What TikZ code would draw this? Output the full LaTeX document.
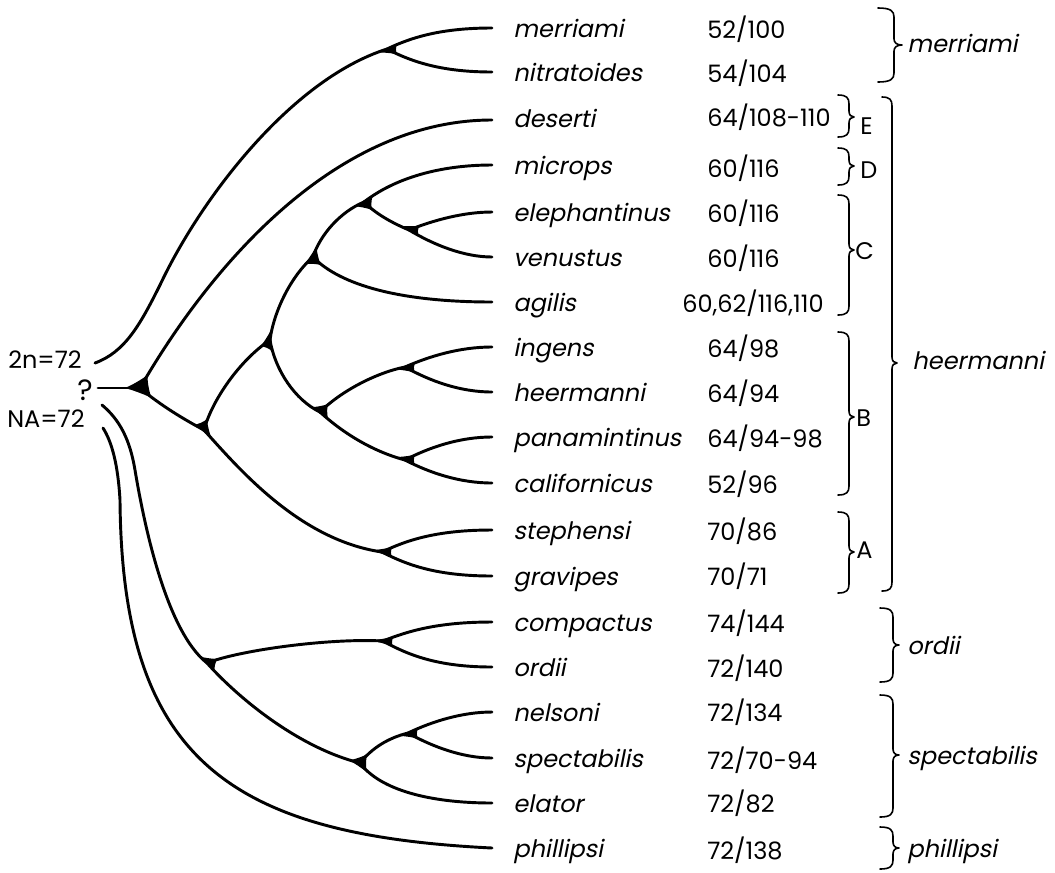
\documentclass[tikz,border=0pt]{standalone}
\usepackage{fontspec}
\setmainfont{Poppins}
\newfontfamily\taxfont{Poppins}[FakeSlant=0.2]
\usetikzlibrary{calc}

\newcommand\labsize{\fontsize{18}{22}\selectfont}

% filled web where a lineage forks:
% reach, control reach, J, toward parent, toward child 1, toward child 2
\newcommand\junctionsz[6]{%
  \fill ($(#3)!#1!(#4)$)
        .. controls ($(#3)!#2!(#4)$) and ($(#3)!#2!(#5)$) .. ($(#3)!#1!(#5)$)
        .. controls ($(#3)!#2!(#5)$) and ($(#3)!#2!(#6)$) .. ($(#3)!#1!(#6)$)
        .. controls ($(#3)!#2!(#6)$) and ($(#3)!#2!(#4)$) .. ($(#3)!#1!(#4)$) -- cycle;}
\newcommand\junction[4]{\junctionsz{9pt}{7pt}{#1}{#2}{#3}{#4}}

% curly bracket: x of ends, top, tip, bottom, depth, tip length
\newcommand\grpbrace[6]{%
  \draw[brk] (#1,#2) .. controls ({#1+0.8*#5},#2) and ({#1+#5},{#2+3}) .. ({#1+#5},{#2+9})
    -- ({#1+#5},{#3-6}) .. controls ({#1+#5},{#3-2}) and ({#1+#5+0.4*#6},#3) .. ({#1+#5+#6},#3)
    .. controls ({#1+#5+0.4*#6},#3) and ({#1+#5},{#3+2}) .. ({#1+#5},{#3+6})
    -- ({#1+#5},{#4-9}) .. controls ({#1+#5},{#4-3}) and ({#1+0.8*#5},#4) .. (#1,#4);}

\begin{document}
\begin{tikzpicture}[x=0.75pt,y=-0.75pt,
  branch/.style={line width=2.2pt,line cap=round},
  brk/.style={line width=1.2pt,line cap=round,line join=round},
  tax/.style={font=\taxfont\labsize,anchor=base west,inner sep=0pt},
  num/.style={font=\labsize,anchor=base west,inner sep=0pt}]
\useasboundingbox (0,0) rectangle (1055,872);

% fork points
\coordinate (rs) at (98,388);
\coordinate (R) at (140,388);
\coordinate (NA) at (204,430);
\coordinate (NC) at (270,340);
\coordinate (ND) at (313,257);
\coordinate (NE) at (364,202);
\coordinate (NF) at (409,230);
\coordinate (NB) at (320,412);
\coordinate (Ning) at (405,367);
\coordinate (Npan) at (405,460);
\coordinate (Nst) at (382,552);
\coordinate (NM) at (387,49);
\coordinate (NO) at (207,663);
\coordinate (Nco) at (383,641);
\coordinate (Nsp) at (360,763);
\coordinate (Nne) at (408,733);
\coordinate (s2n) at (95,363);
\coordinate (sNAi) at (102,405);
\coordinate (sNAo) at (103,428);

% tips of the branches
\coordinate (e-merriami) at (492,28);
\coordinate (e-nitratoides) at (492,72);
\coordinate (e-deserti) at (492,120);
\coordinate (e-microps) at (492,165);
\coordinate (e-elephantinus) at (492,212);
\coordinate (e-venustus) at (492,257);
\coordinate (e-agilis) at (492,302);
\coordinate (e-ingens) at (492,347);
\coordinate (e-heermanni) at (492,392);
\coordinate (e-panamintinus) at (492,437);
\coordinate (e-californicus) at (492,483);
\coordinate (e-stephensi) at (492,530);
\coordinate (e-gravipes) at (492,576);
\coordinate (e-compactus) at (492,622);
\coordinate (e-ordii) at (492,667);
\coordinate (e-nelsoni) at (492,712);
\coordinate (e-spectabilis) at (492,758);
\coordinate (e-elator) at (492,803);
\coordinate (e-phillipsi) at (492,848);

% branches
\draw[branch] (s2n) .. controls (125,352) and (140,325) .. (160,285)
  .. controls (200,200) and (290,80) .. (NM);
\draw[branch] (NM) .. controls (412,37) and (442,28) .. (e-merriami);
\draw[branch] (NM) .. controls (412,62) and (442,72) .. (e-nitratoides);
\draw[branch] (rs) -- (R);
\draw[branch] (R) .. controls (205,275) and (330,120) .. (e-deserti);
\draw[branch] (R) .. controls (160,405) and (185,420) .. (NA);
\draw[branch] (NA) .. controls (212,400) and (240,360) .. (NC);
\draw[branch] (NA) .. controls (240,470) and (300,540) .. (Nst);
\draw[branch] (NC) .. controls (274,310) and (292,275) .. (ND);
\draw[branch] (NC) .. controls (275,370) and (295,400) .. (NB);
\draw[branch] (ND) .. controls (320,235) and (340,212) .. (NE);
\draw[branch] (ND) .. controls (340,285) and (400,302) .. (e-agilis);
\draw[branch] (NE) .. controls (395,178) and (440,165) .. (e-microps);
\draw[branch] (NE) .. controls (375,213) and (390,222) .. (NF);
\draw[branch] (NF) .. controls (434,220) and (464,212) .. (e-elephantinus);
\draw[branch] (NF) .. controls (434,245) and (464,257) .. (e-venustus);
\draw[branch] (NB) .. controls (340,392) and (375,373) .. (Ning);
\draw[branch] (NB) .. controls (345,435) and (375,452) .. (Npan);
\draw[branch] (Ning) .. controls (430,356) and (460,347) .. (e-ingens);
\draw[branch] (Ning) .. controls (430,381) and (460,392) .. (e-heermanni);
\draw[branch] (Npan) .. controls (430,447) and (460,437) .. (e-panamintinus);
\draw[branch] (Npan) .. controls (430,473) and (460,483) .. (e-californicus);
\draw[branch] (Nst) .. controls (407,540) and (437,530) .. (e-stephensi);
\draw[branch] (Nst) .. controls (407,565) and (437,576) .. (e-gravipes);
\draw[branch] (sNAi) .. controls (120,420) and (130,440) .. (135,470)
  .. controls (143,518) and (165,630) .. (NO);
\draw[branch] (NO) .. controls (240,650) and (330,638) .. (Nco);
\draw[branch] (NO) .. controls (240,700) and (300,748) .. (Nsp);
\draw[branch] (Nco) .. controls (408,631) and (438,622) .. (e-compactus);
\draw[branch] (Nco) .. controls (408,655) and (438,667) .. (e-ordii);
\draw[branch] (Nsp) .. controls (372,748) and (388,738) .. (Nne);
\draw[branch] (Nsp) .. controls (380,790) and (430,803) .. (e-elator);
\draw[branch] (Nne) .. controls (433,721) and (463,712) .. (e-nelsoni);
\draw[branch] (Nne) .. controls (433,747) and (463,758) .. (e-spectabilis);
\draw[branch] (sNAo) .. controls (112,442) and (118,465) .. (120,500)
  .. controls (122,760) and (230,835) .. (e-phillipsi);

% webs at the forks
\junctionsz{12pt}{9.5pt}{R}{98,388}{205,275}{160,405}
\junction{NA}{185,420}{212,400}{240,470}
\junction{NC}{240,360}{274,310}{275,370}
\junction{ND}{292,275}{320,235}{340,285}
\junction{NE}{340,212}{395,178}{375,213}
\junction{NF}{390,222}{434,220}{434,245}
\junction{NB}{295,400}{340,392}{345,435}
\junction{Ning}{375,373}{430,356}{430,381}
\junction{Npan}{375,452}{430,447}{430,473}
\junction{Nst}{300,540}{407,540}{407,565}
\junction{NM}{290,80}{412,37}{412,62}
\junction{NO}{165,630}{240,650}{240,700}
\junction{Nco}{330,638}{408,631}{408,655}
\junction{Nsp}{300,748}{372,748}{380,790}
\junction{Nne}{388,738}{433,721}{433,747}

% root labels
\node[num] (lab2n) at (8,368) {2n=72};
\node[num,anchor=center,font=\fontsize{22}{24}\selectfont] (labq) at (85,390) {?};
\node[num] (labNA) at (7,427) {NA=72};

% species names
\node[tax] (t-merriami) at (513,37) {merriami};
\node[tax] (t-nitratoides) at (513,81) {nitratoides};
\node[tax] (t-deserti) at (513,127) {deserti};
\node[tax] (t-microps) at (513,174) {microps};
\node[tax] (t-elephantinus) at (513,221) {elephantinus};
\node[tax] (t-venustus) at (513,266) {venustus};
\node[tax] (t-agilis) at (513,311) {agilis};
\node[tax] (t-ingens) at (513,356) {ingens};
\node[tax] (t-heermanni) at (513,401) {heermanni};
\node[tax] (t-panamintinus) at (513,446) {panamintinus};
\node[tax] (t-californicus) at (513,492) {californicus};
\node[tax] (t-stephensi) at (513,539) {stephensi};
\node[tax] (t-gravipes) at (513,585) {gravipes};
\node[tax] (t-compactus) at (513,631) {compactus};
\node[tax] (t-ordii) at (513,676) {ordii};
\node[tax] (t-nelsoni) at (513,721) {nelsoni};
\node[tax] (t-spectabilis) at (513,767) {spectabilis};
\node[tax] (t-elator) at (513,812) {elator};
\node[tax] (t-phillipsi) at (513,857) {phillipsi};

% karyotype values
\node[num] (v-merriami) at (707,38) {52/100};
\node[num] (v-nitratoides) at (707,82) {54/104};
\node[num] (v-deserti) at (707,126) {64/108-110};
\node[num] (v-microps) at (707,177) {60/116};
\node[num] (v-elephantinus) at (707,222) {60/116};
\node[num] (v-venustus) at (707,267) {60/116};
\node[num] (v-agilis) at (682,312) {60,62/116,110};
\node[num] (v-ingens) at (707,357) {64/98};
\node[num] (v-heermanni) at (707,402) {64/94};
\node[num] (v-panamintinus) at (707,447) {64/94-98};
\node[num] (v-californicus) at (707,493) {52/96};
\node[num] (v-stephensi) at (707,540) {70/86};
\node[num] (v-gravipes) at (707,585) {70/71};
\node[num] (v-compactus) at (707,632) {74/144};
\node[num] (v-ordii) at (707,677) {72/140};
\node[num] (v-nelsoni) at (707,721) {72/134};
\node[num] (v-spectabilis) at (707,769) {72/70-94};
\node[num] (v-elator) at (707,812) {72/82};
\node[num] (v-phillipsi) at (707,859) {72/138};

% groups
\grpbrace{878}{8}{45}{82}{16}{8}
\grpbrace{882}{97}{363}{591}{10}{5}
\grpbrace{838}{95}{117}{137}{11}{5}
\grpbrace{838}{148}{166}{185}{11}{5}
\grpbrace{838}{195}{250}{315}{11}{5}
\grpbrace{838}{332}{417}{495}{11}{5}
\grpbrace{838}{512}{552}{593}{11}{5}
\grpbrace{880}{608}{645}{682}{13}{6}
\grpbrace{880}{695}{755}{817}{13}{6}
\grpbrace{880}{827}{848}{869}{13}{6}

\node[num] (gE) at (860,134) {E};
\node[num] (gD) at (860,178) {D};
\node[num] (gC) at (855,259) {C};
\node[num] (gB) at (856,426) {B};
\node[num] (gA) at (856,558) {A};
\node[tax] (g-merriami) at (907,52) {merriami};
\node[tax] (g-heermanni) at (912,369) {heermanni};
\node[tax] (g-ordii) at (907,654) {ordii};
\node[tax] (g-spectabilis) at (907,764) {spectabilis};
\node[tax] (g-phillipsi) at (907,857) {phillipsi};
\end{tikzpicture}
\end{document}
